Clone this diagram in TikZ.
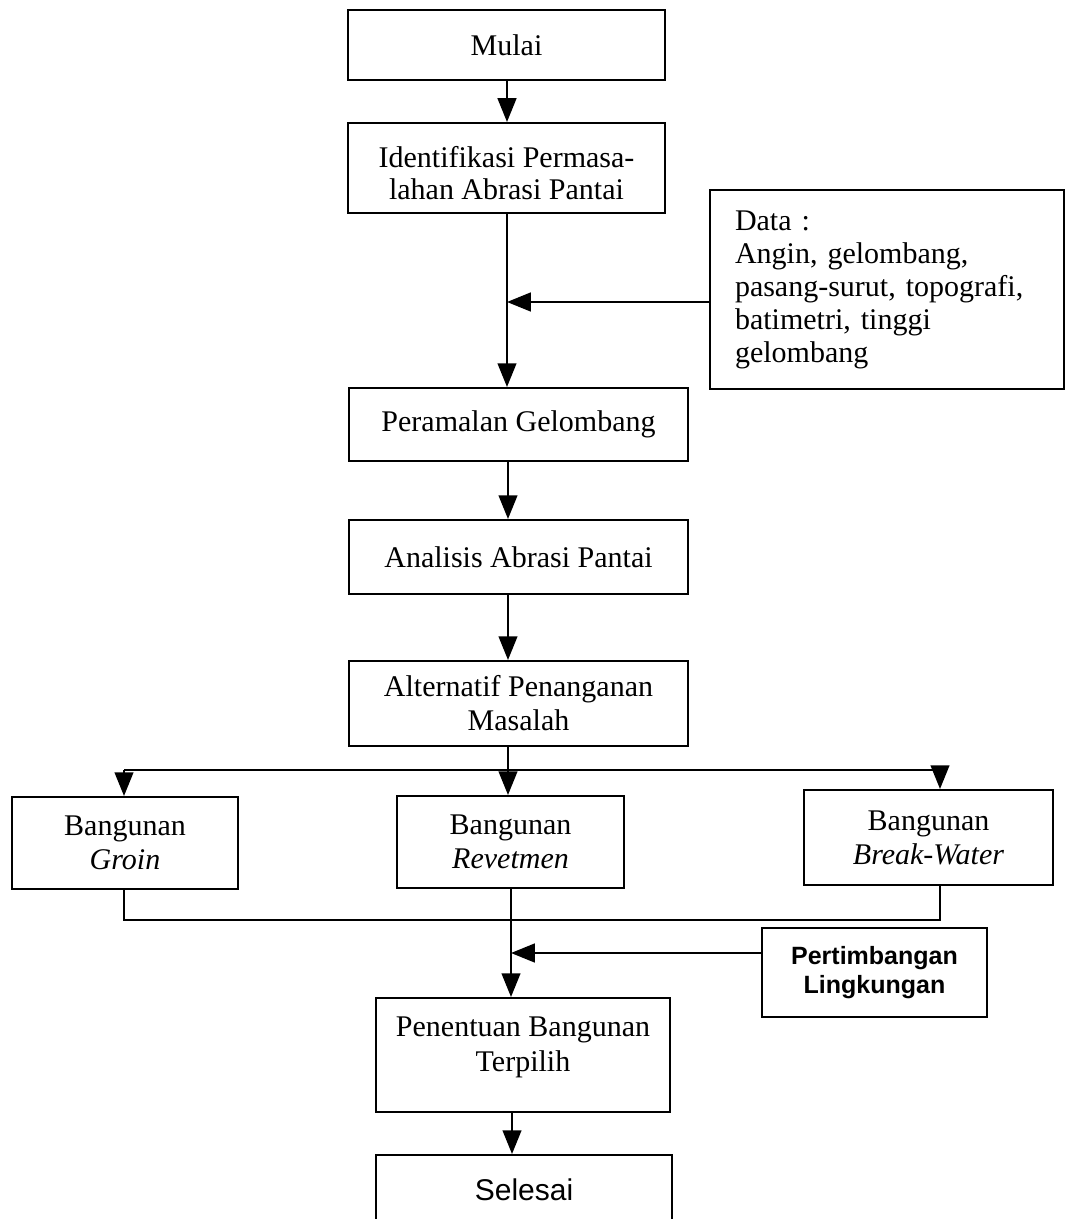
\documentclass[tikz,border=0pt]{standalone}
\usepackage{fontspec}
\setmainfont{Liberation Serif}
\setsansfont{Liberation Sans}
\usetikzlibrary{arrows.meta}
\begin{document}
\begin{tikzpicture}[x=0.4pt,y=-0.4pt,
  box/.style={draw,line width=0.8pt,inner sep=0pt,align=center,
    font=\fontsize{12}{13.6}\selectfont},
  txt/.style={inner sep=0pt,align=center,font=\fontsize{12}{14}\selectfont},
  conn/.style={line width=0.8pt},
  arr/.style={line width=0.8pt,-{Triangle[length=9.5pt,width=7.5pt]}}]
\useasboundingbox (0,0) rectangle (1067,1219);
\clip (0,0) rectangle (1067,1219);
\fill[white] (0,0) rectangle (1067,1219);
% spine coordinates
\coordinate (s1) at (507,0);
\coordinate (s2) at (508,0);
\coordinate (s3) at (511,0);
% boxes
\node[box,minimum width=126.8pt,minimum height=28pt] (mulai) at (506.5,45) {Mulai};
\node[box,minimum width=126.8pt,minimum height=36pt] (ident) at (506.5,168) {};
\node[txt,font=\fontsize{12}{13}\selectfont] (identtxt) at (506.5,173)
  {Identifikasi Permasa-\\lahan Abrasi Pantai};
\node[box,minimum width=141.6pt,minimum height=79.6pt,align=left,
  text width=121.6pt,inner xsep=10pt,font=\fontsize{12}{13.2}\selectfont] (data) at (887,289.5)
  {Data :\\Angin, gelombang,\\pasang-surut, topografi,\\batimetri, tinggi\\gelombang};
\node[box,minimum width=135.6pt,minimum height=29.2pt] (peram) at (518.5,424.5) {Peramalan Gelombang};
\node[box,minimum width=135.6pt,minimum height=29.6pt] (anal) at (518.5,557) {Analisis Abrasi Pantai};
\node[box,minimum width=135.6pt,minimum height=34pt] (alt) at (518.5,703.5)
  {Alternatif Penanganan\\Masalah};
\node[box,minimum width=90.4pt,minimum height=36.8pt] (groin) at (125,843)
  {Bangunan\\\textit{Groin}};
\node[box,minimum width=90.8pt,minimum height=36.8pt] (revet) at (510.5,842)
  {Bangunan\\\textit{Revetmen}};
\node[box,minimum width=99.6pt,minimum height=38pt] (bw) at (928.5,837.5)
  {Bangunan\\\textit{Break-Water}};
\node[box,minimum width=90pt,minimum height=35.6pt,
  font=\sffamily\bfseries\fontsize{10}{11.5}\selectfont] (pert) at (874.5,972.5)
  {Pertimbangan\\Lingkungan};
\node[box,minimum width=117.6pt,minimum height=45.6pt] (pen) at (523,1055) {};
\node[txt] (pentxt) at (523,1047) {Penentuan Bangunan\\Terpilih};
\node[box,minimum width=118.4pt,minimum height=27.6pt,
  font=\sffamily\fontsize{12}{14}\selectfont] (sel) at (524,1189.5) {Selesai};
% connectors
\draw[arr] (mulai.south -| s1) -- (ident.north -| s1);
\draw[arr] (ident.south -| s1) -- (peram.north -| s1);
\coordinate (d1) at (710,302);
\draw[arr] (data.west |- d1) -- (d1 -| s1);
\draw[arr] (peram.south -| s2) -- (anal.north -| s2);
\draw[arr] (anal.south -| s2) -- (alt.north -| s2);
\coordinate (br) at (508,770);
\coordinate (g0) at (124,770);
\coordinate (w0) at (940,770);
\draw[conn] (alt.south -| br) -- (br);
\draw[conn] (g0) -- (w0);
\draw[arr] (g0) -- (g0 |- groin.north);
\draw[arr] (br) -- (br |- revet.north);
\draw[arr] (w0) -- (w0 |- bw.north);
\coordinate (j1) at (124,920);
\coordinate (j2) at (940,920);
\draw[conn] (groin.south -| j1) -- (j1) -- (j2) -- (bw.south -| j2);
\draw[arr] (revet.south -| s3) -- (pen.north -| s3);
\coordinate (p1) at (762,953);
\draw[arr] (pert.west |- p1) -- (p1 -| s3);
\coordinate (s4) at (512,0);
\draw[arr] (pen.south -| s4) -- (sel.north -| s4);
\end{tikzpicture}
\end{document}
